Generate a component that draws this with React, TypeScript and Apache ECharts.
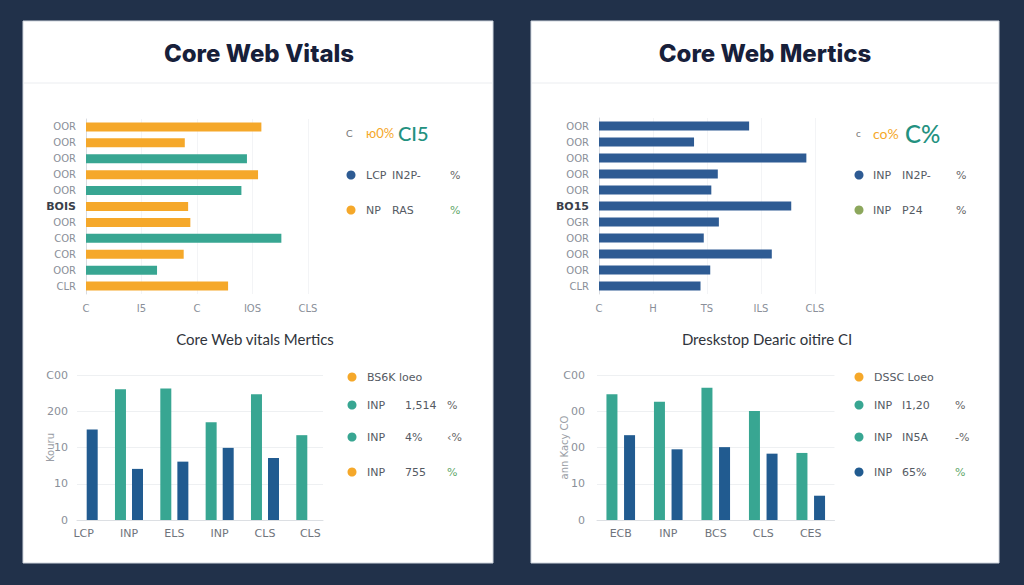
import React, { useEffect, useRef } from "react";
import * as echarts from "echarts";

// ---- data ----
const TL_CATEGORIES = ["OOR", "OOR", "OOR", "OOR", "OOR", "BOIS", "OOR", "COR", "COR", "OOR", "CLR"];
const TL_VALUES = [79, 44.5, 72.5, 77.5, 70, 46, 47, 88, 44, 32, 64];
const TL_GROUPS = ["a", "a", "b", "a", "b", "a", "a", "b", "a", "b", "a"];
const TL_TICKS = ["C", "I5", "C", "IOS", "CLS"];
const TL_STRONG = "BOIS";

const TR_CATEGORIES = ["OOR", "OOR", "OOR", "OOR", "OOR", "BO15", "OGR", "OOR", "OOR", "OOR", "CLR"];
const TR_VALUES = [69.5, 44, 96, 55, 52, 89, 55.5, 48.5, 80, 51.5, 47];
const TR_TICKS = ["C", "H", "TS", "ILS", "CLS"];
const TR_STRONG = "BO15";

const BL_CATEGORIES = ["LCP", "INP", "ELS", "INP", "CLS", "CLS"];
const BL_TEAL = [null, 361, 363, 270, 347, 234];
const BL_NAVY = [250, 141, 161, 199, 171, null];
const BL_TICKS = ["0", "10", "10", "200", "C00"];
const BL_AXIS_NAME = "Kouru";

const BR_CATEGORIES = ["ECB", "INP", "BCS", "CLS", "CES"];
const BR_TEAL = [347, 326, 365, 301, 185];
const BR_NAVY = [234, 195, 201, 183, 67];
const BR_TICKS = ["0", "10", "00", "00", "C00"];
const BR_AXIS_NAME = "ann Kacy CO";

const TITLE_LEFT = "Core Web Vitals";
const TITLE_RIGHT = "Core Web Mertics";
const SUBTITLE_LEFT = "Core Web vitals Mertics";
const SUBTITLE_RIGHT = "Dreskstop Dearic oitire CI";

const TL_HEAD = ["C", "ю0%", "CI5"];
const TL_LEGEND = [["LCP", "IN2P-", "%"], ["NP", "RAS", "%"]];
const TR_HEAD = ["c", "co%", "C%"];
const TR_LEGEND = [["INP", "IN2P-", "%"], ["INP", "P24", "%"]];
const BL_LEGEND = [["BS6K loeo"], ["INP", "1,514", "%"], ["INP", "4%", "‹%"], ["INP", "755", "%"]];
const BR_LEGEND = [["DSSC Loeo"], ["INP", "I1,20", "%"], ["INP", "IN5A", "-%"], ["INP", "65%", "%"]];

// ---- styles ----
const BG = "#21314a";
const ORANGE = "#F5A82A";
const TEAL = "#38A692";
const NAVY_TOP = "#2E5B93";
const NAVY = "#215B90";
const OLIVE = "#8CA75C";
const GREEN_PCT = "#5fa86a";
const FONT = "Lato, 'Noto Sans', sans-serif";
const LABEL_FONT = "'DejaVu Sans', sans-serif";

function legendRows(
  rows: string[][],
  dots: string[],
  dotX: number,
  cols: number[],
  ys: number[],
  lastColor: string[]
) {
  const els: any[] = [];
  rows.forEach((row, r) => {
    els.push({
      type: "circle",
      shape: { cx: dotX, cy: ys[r], r: 4.5 },
      style: { fill: dots[r] },
    });
    row.forEach((t, c) => {
      els.push({
        type: "text",
        x: cols[c],
        y: ys[r],
        style: {
          text: t,
          fill: c === row.length - 1 && row.length > 1 ? lastColor[r] : "#555a63",
          font: `11px ${LABEL_FONT}`,
          textVerticalAlign: "middle",
        },
      });
    });
  });
  return els;
}

function headRow(head: string[], xs: number[], y: number, sizes: number[]) {
  const colors = ["#777", ORANGE, "#23917f"];
  return head.map((t, i) => ({
    type: "text",
    x: xs[i],
    y,
    style: {
      text: t,
      fill: colors[i],
      font: `${i === 2 ? 500 : 400} ${sizes[i]}px ${FONT}`,
      textVerticalAlign: "middle",
    },
  }));
}

function catLabel(strong: string) {
  return {
    color: "#8a8f99",
    fontSize: 10,
    fontFamily: LABEL_FONT,
    margin: 10,
    formatter: (v: string) => (v === strong ? `{s|${v}}` : v),
    rich: { s: { fontWeight: "bold", color: "#3a3f4a", fontSize: 11, fontFamily: LABEL_FONT } },
  };
}

function buildOption(): any {
  const graphic: any[] = [
    { type: "rect", z: -10, shape: { x: 23, y: 21, width: 470, height: 542 }, style: { fill: "#fff", stroke: "#cfd5dd", lineWidth: 1 } },
    { type: "rect", z: -10, shape: { x: 531, y: 21, width: 468, height: 542 }, style: { fill: "#fff", stroke: "#cfd5dd", lineWidth: 1 } },
    { type: "line", shape: { x1: 24, y1: 83, x2: 492, y2: 83 }, style: { stroke: "#ebedf0", lineWidth: 1 } },
    { type: "line", shape: { x1: 532, y1: 83, x2: 998, y2: 83 }, style: { stroke: "#ebedf0", lineWidth: 1 } },
    { type: "text", x: 259, y: 53, style: { text: TITLE_LEFT, fill: "#17203a", font: `800 24px Inter, ${FONT}`, textAlign: "center", textVerticalAlign: "middle" } },
    { type: "text", x: 765, y: 53, style: { text: TITLE_RIGHT, fill: "#17203a", font: `800 24px Inter, ${FONT}`, textAlign: "center", textVerticalAlign: "middle" } },
    { type: "text", x: 255, y: 339, style: { text: SUBTITLE_LEFT, fill: "#30343b", font: `15px ${FONT}`, textAlign: "center", textVerticalAlign: "middle" } },
    { type: "text", x: 767, y: 339, style: { text: SUBTITLE_RIGHT, fill: "#30343b", font: `15px ${FONT}`, textAlign: "center", textVerticalAlign: "middle" } },
    ...headRow(TL_HEAD, [346, 366, 398], 133, [10, 13, 20]),
    ...headRow(TR_HEAD, [856, 873, 905], 133, [10, 14, 24]),
    ...legendRows(TL_LEGEND, [NAVY_TOP, ORANGE], 351, [366, 392, 450], [175, 210], ["#666", GREEN_PCT]),
    ...legendRows(TR_LEGEND, [NAVY_TOP, OLIVE], 859, [873, 902, 956], [175, 210], ["#666", "#666"]),
    ...legendRows(BL_LEGEND, [ORANGE, TEAL, TEAL, ORANGE], 352, [367, 405, 447], [377, 405, 437, 472], ["", "#666", "#666", GREEN_PCT]),
    ...legendRows(BR_LEGEND, [ORANGE, TEAL, TEAL, NAVY], 859, [874, 902, 955], [377, 405, 437, 472], ["", "#666", "#666", GREEN_PCT]),
  ];

  const valueTicks = (ticks: string[], step: number, max: number) => ({
    type: "value",
    min: 0,
    max,
    interval: step,
    axisLine: { show: false },
    axisTick: { show: false },
    splitLine: { show: true, lineStyle: { color: "#f3f4f6" } },
    axisLabel: {
      color: "#8a8f99",
      fontSize: 10,
      fontFamily: LABEL_FONT,
      margin: 9,
      formatter: (v: number) => ticks[Math.round(v / step)] ?? "",
    },
  });

  const bottomY = (ticks: string[], name: string, nameGap: number, margin: number) => ({
    type: "value",
    min: 0,
    max: 400,
    interval: 100,
    axisLine: { show: false },
    axisTick: { show: false },
    splitLine: { show: true, lineStyle: { color: "#eef0f2" } },
    axisLabel: {
      color: "#8a8f99",
      fontSize: 11,
      fontFamily: LABEL_FONT,
      margin,
      formatter: (v: number) => ticks[Math.round(v / 100)] ?? "",
    },
    name,
    nameLocation: "middle",
    nameRotate: 90,
    nameGap,
    nameMoveOverlap: false,
    nameTextStyle: { color: "#9a9ea6", fontSize: 10, fontFamily: LABEL_FONT },
  });

  const bottomXLabel = { color: "#6f747c", fontSize: 11, fontFamily: LABEL_FONT, margin: 8 };

  return {
    animation: false,
    backgroundColor: BG,
    textStyle: { fontFamily: FONT },
    graphic,
    grid: [
      { left: 86, top: 119, width: 222, height: 175 },
      { left: 599, top: 118, width: 216, height: 176 },
      { left: 61, top: 375, width: 272, height: 145 },
      { left: 77, top: 375, width: 246, height: 145 },
      { left: 597, top: 375, width: 237.5, height: 145 },
    ],
    xAxis: [
      { gridIndex: 0, ...valueTicks(TL_TICKS, 25, 100) },
      { gridIndex: 1, ...valueTicks(TR_TICKS, 25, 100) },
      {
        gridIndex: 2,
        type: "category",
        data: BL_CATEGORIES,
        axisLine: { show: false },
        axisTick: { show: false },
        axisLabel: bottomXLabel,
      },
      {
        gridIndex: 3,
        type: "category",
        data: BL_CATEGORIES,
        axisLine: { show: true, lineStyle: { color: "#dcdfe3" } },
        axisTick: { show: false },
        axisLabel: { show: false },
      },
      {
        gridIndex: 4,
        type: "category",
        data: BR_CATEGORIES,
        axisLine: { show: true, lineStyle: { color: "#dcdfe3" } },
        axisTick: { show: false },
        axisLabel: bottomXLabel,
      },
    ],
    yAxis: [
      {
        gridIndex: 0,
        type: "category",
        inverse: true,
        data: TL_CATEGORIES,
        axisLine: { show: true, lineStyle: { color: "#d8dbe0" } },
        axisTick: { show: false },
        axisLabel: catLabel(TL_STRONG),
      },
      {
        gridIndex: 1,
        type: "category",
        inverse: true,
        data: TR_CATEGORIES,
        axisLine: { show: true, lineStyle: { color: "#d8dbe0" } },
        axisTick: { show: false },
        axisLabel: catLabel(TR_STRONG),
      },
      { gridIndex: 2, type: "value", min: 0, max: 400, show: false },
      { gridIndex: 3, ...bottomY(BL_TICKS, BL_AXIS_NAME, 22, 9) },
      { gridIndex: 4, ...bottomY(BR_TICKS, BR_AXIS_NAME, 28, 12) },
    ],
    series: [
      {
        type: "bar",
        xAxisIndex: 0,
        yAxisIndex: 0,
        barWidth: 9,
        data: TL_VALUES.map((v, i) => ({
          value: v,
          itemStyle: { color: TL_GROUPS[i] === "b" ? TEAL : ORANGE },
        })),
      },
      {
        type: "bar",
        xAxisIndex: 1,
        yAxisIndex: 1,
        barWidth: 9,
        itemStyle: { color: NAVY_TOP },
        data: TR_VALUES,
      },
      {
        type: "bar",
        xAxisIndex: 2,
        yAxisIndex: 2,
        barWidth: 11,
        barGap: "55%",
        itemStyle: { color: TEAL },
        data: BL_TEAL,
      },
      {
        type: "bar",
        xAxisIndex: 2,
        yAxisIndex: 2,
        barWidth: 11,
        barGap: "55%",
        itemStyle: { color: NAVY },
        data: BL_NAVY,
      },
      {
        type: "bar",
        xAxisIndex: 4,
        yAxisIndex: 4,
        barWidth: 11,
        barGap: "60%",
        itemStyle: { color: TEAL },
        data: BR_TEAL,
      },
      {
        type: "bar",
        xAxisIndex: 4,
        yAxisIndex: 4,
        barWidth: 11,
        barGap: "60%",
        itemStyle: { color: NAVY },
        data: BR_NAVY,
      },
    ],
  };
}

export default function App() {
  const ref = useRef<HTMLDivElement>(null);
  useEffect(() => {
    if (!ref.current) return;
    const chart = echarts.init(ref.current, null, { renderer: "svg" });
    chart.setOption(buildOption());
    return () => chart.dispose();
  }, []);
  return (
    <div
      ref={ref}
      style={{ position: "fixed", left: 0, top: 0, width: 1024, height: 585 }}
    />
  );
}
